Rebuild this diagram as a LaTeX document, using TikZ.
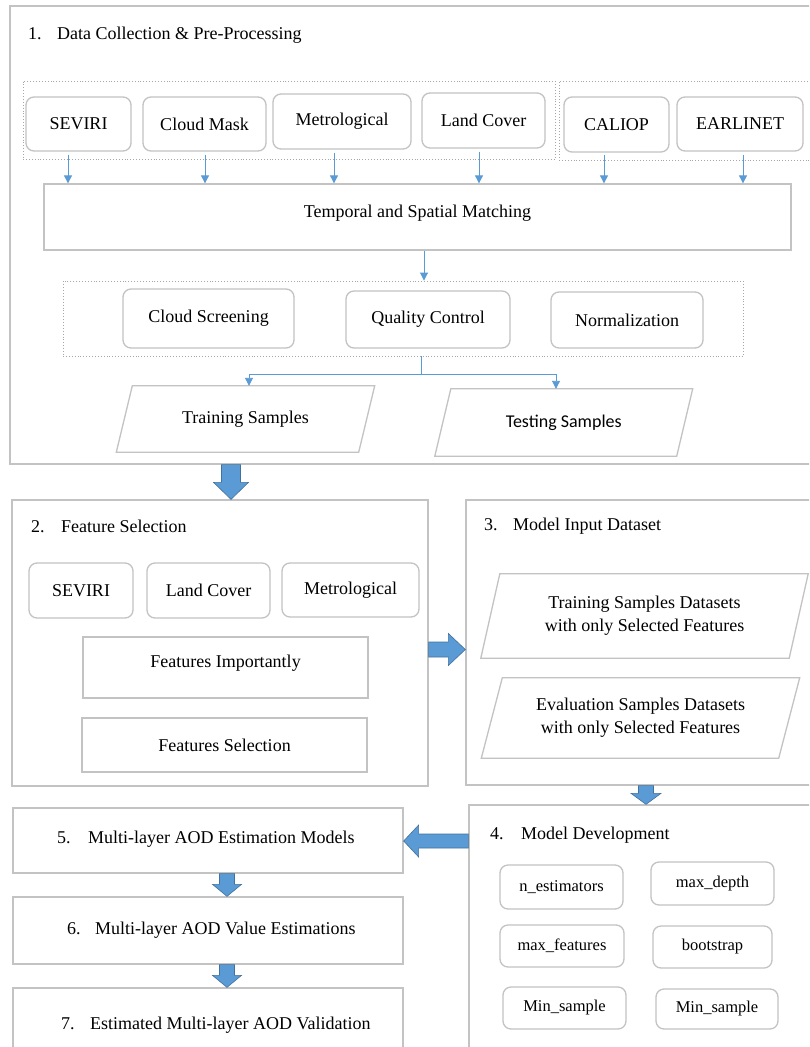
\documentclass[tikz,border=0pt]{standalone}
\usepackage{fontspec}
\setmainfont{Liberation Serif}
\newfontfamily\calibfont{Carlito}
\usetikzlibrary{arrows.meta,calc}
\definecolor{arrowblue}{HTML}{5B9BD5}
\definecolor{arrowdark}{HTML}{41719C}
\definecolor{framegray}{HTML}{C3C3C3}
\definecolor{dotgray}{HTML}{A6A6A6}
\tikzset{
  frame/.style={draw=framegray, line width=1.3pt, inner sep=0pt},
  rbox/.style={frame, rounded corners=8pt},
  grp/.style={draw=dotgray, dotted, line width=0.9pt, inner sep=0pt},
  sz/.style 2 args={minimum width=#1pt, minimum height=#2pt},
  para/.style={inner sep=0pt},
  title/.style={anchor=base west, inner sep=0pt},
  small/.style={font=\fontsize{16.5}{20}\selectfont},
  liftby/.style={text depth=#1},
  thinarr/.style={draw=arrowblue, line width=0.9pt, -{Triangle[width=8pt,length=8pt]}},
  thinline/.style={draw=arrowblue, line width=0.9pt},
  blk/.style={fill=arrowblue, draw=arrowdark, line width=0.6pt}
}
\newcommand\paradraw[2]{\draw[frame] ([xshift=#2]#1.north west) -- ([xshift=#2]#1.north east) -- ([xshift=-#2]#1.south east) -- ([xshift=-#2]#1.south west) -- cycle;}
% vertical block arrow: from anchor, to anchor, center x, shaft half, head half, head length
\newcommand\blkv[6]{\path[blk] let \p1=(#1), \p2=(#2) in ({(#3-#4)*1pt},\y1) -- ({(#3+#4)*1pt},\y1) -- ({(#3+#4)*1pt},{\y2+(#6pt)}) -- ({(#3+#5)*1pt},{\y2+(#6pt)}) -- ({#3*1pt},\y2) -- ({(#3-#5)*1pt},{\y2+(#6pt)}) -- ({(#3-#4)*1pt},{\y2+(#6pt)}) -- cycle;}
% horizontal block arrow: from anchor, to anchor, center y, shaft half, head half, signed head length
\newcommand\blkh[6]{\path[blk] let \p1=(#1), \p2=(#2) in (\x1,{-(#3-#4)*1pt}) -- ({\x2-(#6pt)},{-(#3-#4)*1pt}) -- ({\x2-(#6pt)},{-(#3-#5)*1pt}) -- (\x2,{-#3*1pt}) -- ({\x2-(#6pt)},{-(#3+#5)*1pt}) -- ({\x2-(#6pt)},{-(#3+#4)*1pt}) -- (\x1,{-(#3+#4)*1pt}) -- cycle;}
\begin{document}
\begin{tikzpicture}[x=1pt, y=-1pt, every node/.style={font=\fontsize{18}{22}\selectfont}]
\useasboundingbox (0,0) rectangle (809,1047);
\clip (0,0) rectangle (809,1047);
\fill[white] (0,0) rectangle (809,1047);

% ---------- Block 1 ----------
\node[frame, sz={802}{458}] (b1) at (411,235) {};
\node[title] (t1) at (28,39) {\makebox[29pt][l]{1.}Data Collection \& Pre-Processing};
\node[grp, sz={532}{78}] (gA) at (289,120) {};
\node[grp, sz={253}{79}] (gB) at (685.5,120.5) {};
\node[rbox, sz={105}{54}] (s1) at (78.5,124) {SEVIRI};
\node[rbox, sz={123}{54}] (s2) at (204.5,124) {Cloud Mask};
\node[rbox, sz={138}{55}] (s3) at (342,121.5) {Metrological};
\node[rbox, sz={123}{55}] (s4) at (483.5,120.5) {Land Cover};
\node[rbox, sz={105}{55}] (s5) at (616.5,124.5) {CALIOP};
\node[rbox, sz={126}{54}] (s6) at (740,124) {EARLINET};
\node[frame, sz={747}{66}, liftby=12pt] (tsm) at (417.5,217) {Temporal and Spatial Matching};
\draw[thinarr] ([xshift=-10.5pt,yshift=-3pt]s1.south) -- ([xshift=-10.5pt]s1.south |- tsm.north);
\draw[thinarr] ([xshift=0.5pt,yshift=-3pt]s2.south) -- ([xshift=0.5pt]s2.south |- tsm.north);
\draw[thinarr] ([xshift=-8pt,yshift=-3pt]s3.south) -- ([xshift=-8pt]s3.south |- tsm.north);
\draw[thinarr] ([xshift=-4.5pt,yshift=-3pt]s4.south) -- ([xshift=-4.5pt]s4.south |- tsm.north);
\draw[thinarr] ([xshift=-12.5pt,yshift=-2pt]s5.south) -- ([xshift=-12.5pt]s5.south |- tsm.north);
\draw[thinarr] ([xshift=3pt,yshift=-3pt]s6.south) -- ([xshift=3pt]s6.south |- tsm.north);

\node[grp, sz={680}{75}] (gC) at (403,318.5) {};
\node[rbox, sz={171}{59}] (cs) at (208.5,318.5) {Cloud Screening};
\node[rbox, sz={164}{57}] (qc) at (428,319.5) {Quality Control};
\node[rbox, sz={152}{56}] (nm) at (627,320) {Normalization};
\draw[thinarr] ([xshift=6.5pt]tsm.south) -- ([xshift=6.5pt]tsm.south |- gC.north);

\node[para, sz={242}{66}] (train) at (245.5,419) {Training Samples};
\node[para, sz={241.5}{67}, font=\calibfont\fontsize{18}{22}\selectfont] (test) at (563.75,422.5) {Testing Samples};
\paradraw{train}{8pt}
\paradraw{test}{8pt}
\coordinate (split) at (421,374);
\coordinate (lx) at (249,374);
\coordinate (rx) at (556,374);
\draw[thinline] (split |- gC.south) -- (split);
\draw[thinarr] (split) -- (lx) -- (lx |- train.north);
\draw[thinarr] (split) -- (rx) -- (rx |- test.north);

% ---------- Block 2 ----------
\node[frame, sz={416}{286}] (b2) at (220,643) {};
\node[title] (t2) at (31,532) {\makebox[30pt][l]{2.}Feature Selection};
\node[rbox, sz={104}{55}] (f1) at (81,590.5) {SEVIRI};
\node[rbox, sz={123}{55}] (f2) at (208.5,590.5) {Land Cover};
\node[rbox, sz={137}{54}] (f3) at (350.5,590) {Metrological};
\node[frame, sz={285}{61}, liftby=13pt] (fi) at (225.5,667.5) {Features Importantly};
\node[frame, sz={285}{54}] (fs) at (224.5,745) {Features Selection};

% ---------- Block 3 ----------
\node[frame, sz={346}{285}] (b3) at (639,642.5) {};
\node[title] (t3) at (484,530) {\makebox[29pt][l]{3.}Model Input Dataset};
\node[para, sz={308}{84}, align=center, font=\fontsize{18}{23}\selectfont] (d1) at (644.5,616) {Training Samples Datasets\\with only Selected Features};
\node[para, sz={297}{80}, align=center, font=\fontsize{18}{23}\selectfont] (d2) at (640.5,718) {Evaluation Samples Datasets\\with only Selected Features};
\paradraw{d1}{9.5pt}
\paradraw{d2}{10.5pt}

% ---------- Block 4 ----------
\node[frame, sz={343}{255}] (b4) at (640.5,932.5) {};
\node[title] (t4) at (490,839) {\makebox[31pt][l]{4.}Model Development};
\node[rbox, small, sz={123}{44}] (p1) at (561.5,887) {n\_estimators};
\node[rbox, small, sz={123}{43}] (p2) at (712.5,883.5) {max\_depth};
\node[rbox, small, sz={124}{42}] (p3) at (562,946) {max\_features};
\node[rbox, small, sz={119}{42}] (p4) at (712.5,947) {bootstrap};
\node[rbox, small, sz={123}{42}] (p5) at (564.5,1008) {Min\_sample};
\node[rbox, small, sz={122}{40}] (p6) at (717,1009) {Min\_sample};

% ---------- Blocks 5-7 ----------
\node[frame, sz={390}{65}] (b5) at (208,840.5) {};
\node[title] (t5) at (57,843) {\makebox[31pt][l]{5.}Multi-layer AOD Estimation Models};
\node[frame, sz={390}{67}] (b6) at (208,930.5) {};
\node[title] (t6) at (67,934) {\makebox[28pt][l]{6.}Multi-layer AOD Value Estimations};
\node[frame, sz={390}{72}] (b7) at (208,1024) {};
\node[title] (t7) at (61,1029) {\makebox[29pt][l]{7.}Estimated Multi-layer AOD Validation};

% ---------- Block arrows ----------
\blkv{b1.south}{b2.north}{231}{9.5}{17.5}{17}
\blkh{b2.east}{b3.west}{649.5}{7.5}{16}{17}
\blkv{b3.south}{b4.north}{646}{7.5}{15}{11}
\blkh{b4.west}{b5.east}{841}{7}{16}{-15}
\blkv{b5.south}{b6.north}{227}{7.5}{14.5}{12}
\blkv{b6.south}{b7.north}{227}{7.5}{14.5}{12}
\end{tikzpicture}
\end{document}
